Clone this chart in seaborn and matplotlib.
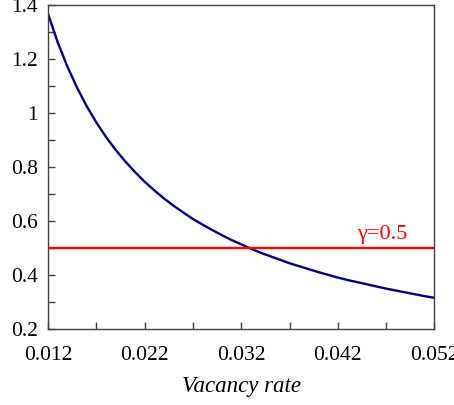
import numpy as np
import pandas as pd
import seaborn as sns
import matplotlib.pyplot as plt

# values
vacancy = [0.012, 0.013, 0.014, 0.015, 0.016, 0.017, 0.018, 0.019, 0.020, 0.021, 0.022,
           0.023, 0.024, 0.025, 0.026, 0.027, 0.028, 0.029, 0.030, 0.031, 0.032,
           0.033, 0.034, 0.035, 0.036, 0.037, 0.038, 0.039, 0.040, 0.041, 0.042,
           0.043, 0.044, 0.045, 0.046, 0.047, 0.048, 0.049, 0.050, 0.051, 0.052]
value = [1.367, 1.262, 1.172, 1.094, 1.025, 0.965, 0.911, 0.863, 0.82, 0.781, 0.745,
         0.713, 0.683, 0.656, 0.631, 0.607, 0.586, 0.566, 0.547, 0.529, 0.513,
         0.497, 0.482, 0.469, 0.456, 0.443, 0.432, 0.421, 0.41, 0.40, 0.39,
         0.381, 0.373, 0.365, 0.357, 0.349, 0.342, 0.335, 0.328, 0.321, 0.315]
gamma = 0.5
x_ticks = [0.012, 0.022, 0.032, 0.042, 0.052]
y_ticks = [0.2, 0.4, 0.6, 0.8, 1.0, 1.2, 1.4]
y_labels = ["0.2", "0.4", "0.6", "0.8", "1", "1.2", "1.4"]

sns.set_style("ticks")
plt.rcParams['font.family'] = ['Liberation Serif', 'DejaVu Serif']
plt.rcParams['text.color'] = 'black'
plt.rcParams['axes.labelcolor'] = 'black'

df = pd.DataFrame({'vacancy': vacancy, 'value': value})

fig = plt.figure(figsize=(4.54, 4.05), dpi=100)
ax = fig.add_axes([0.1057, 0.188, 0.8513, 0.800])
sns.lineplot(data=df, x='vacancy', y='value', color='#000080', linewidth=1.7, ax=ax)
ax.axhline(gamma, color='red', linewidth=1.7)
ax.text(0.0492, gamma + 0.015, "γ=0.5", color='red', fontsize=16, ha='right', va='bottom')

ax.set_xlim(0.012, 0.052)
ax.set_ylim(0.2, 1.4)
ax.set_xticks(x_ticks)
ax.set_xticklabels([str(t) for t in x_ticks])
ax.set_xticks([0.017, 0.027, 0.037, 0.047], minor=True)
ax.set_yticks(y_ticks)
ax.set_yticklabels(y_labels)
ax.set_yticks([0.3, 0.5, 0.7, 0.9, 1.1, 1.3], minor=True)
ax.tick_params(which='both', direction='in', length=5, width=1, color='#404040',
               labelsize=15.5, labelcolor='black', top=False, right=False)
ax.tick_params(axis='x', pad=12)
ax.tick_params(axis='y', pad=7)
for s in ax.spines.values():
    s.set_visible(True)
    s.set_color('#404040')
    s.set_linewidth(1)
ax.set_xlabel("Vacancy rate", fontsize=16.5, style='italic', labelpad=8)
ax.set_ylabel("")

fig.savefig("out.png", dpi=100)
